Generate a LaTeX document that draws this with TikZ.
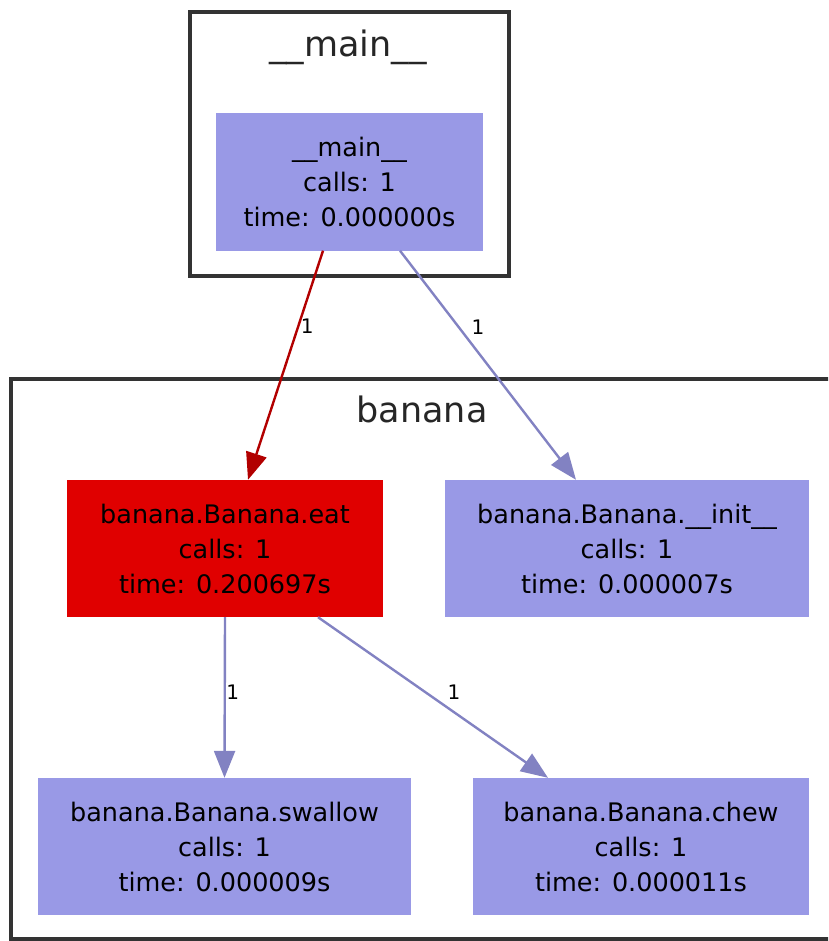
\documentclass[tikz,border=0pt]{standalone}
\usepackage{fontspec}
\setmainfont{DejaVu Sans}
\usetikzlibrary{arrows.meta,calc}
\definecolor{nodeblue}{HTML}{9999E6}
\definecolor{nodered}{HTML}{E00000}
\definecolor{edgeblue}{HTML}{8282C2}
\definecolor{edgered}{HTML}{B20000}
\definecolor{clusterline}{HTML}{333333}
\begin{document}
\begin{tikzpicture}[x=1pt,y=-1pt,
  fnode/.style={rectangle, inner sep=0pt, align=center, font=\fontsize{25.5}{35}\selectfont, text=black, minimum height=137pt},
  cluster/.style={draw=clusterline, line width=4pt},
  clabel/.style={anchor=base, font=\fontsize{35}{40}\selectfont, text=black!85},
  call/.style={line width=2.4pt, -{Triangle[length=27pt,width=21pt]}},
  elabel/.style={font=\fontsize{20}{24}\selectfont, text=black, inner sep=0pt}]
\useasboundingbox (0,0) rectangle (828,941);
\clip (0,0) rectangle (828,941);
% clusters
\draw[cluster] (190,12) rectangle (509,276);
\node[clabel] (lmain) at (348,57) {\_\_main\_\_};
\draw[cluster, line width=3.5pt] (11,379) rectangle (840,939);
\node[clabel] (lbanana) at (422,422) {banana};
% nodes
\node[fnode, fill=nodeblue, minimum width=267pt] (main) at (349.5,182) {\_\_main\_\_\\calls: 1\\time: 0.000000s};
\node[fnode, fill=nodered, minimum width=316pt] (eat) at (225,548.5) {banana.Banana.eat\\calls: 1\\time: 0.200697s};
\node[fnode, fill=nodeblue, minimum width=364pt] (init) at (627,548.5) {banana.Banana.\_\_init\_\_\\calls: 1\\time: 0.000007s};
\node[fnode, fill=nodeblue, minimum width=373pt] (swallow) at (224.5,846.5) {banana.Banana.swallow\\calls: 1\\time: 0.000009s};
\node[fnode, fill=nodeblue, minimum width=336pt] (chew) at (641,846.5) {banana.Banana.chew\\calls: 1\\time: 0.000011s};
% edges
\draw[call, draw=edgered, fill=edgered] ($(main.south)+(-26.5,0)$) -- node[elabel, pos=0.33, xshift=9pt] {1} ($(eat.north)+(23,0)$);
\draw[call, draw=edgeblue, fill=edgeblue] ($(main.south)+(50.5,0)$) -- node[elabel, pos=0.335, xshift=19pt] {1} ($(init.north)+(-51,0)$);
\draw[call, draw=edgeblue, fill=edgeblue] (eat.south) -- node[elabel, pos=0.47, xshift=8pt] {1} (swallow.north);
\draw[call, draw=edgeblue, fill=edgeblue] ($(eat.south)+(93,0)$) -- node[elabel, pos=0.47, xshift=28pt] {1} ($(chew.north)+(-93,0)$);
\end{tikzpicture}
\end{document}
